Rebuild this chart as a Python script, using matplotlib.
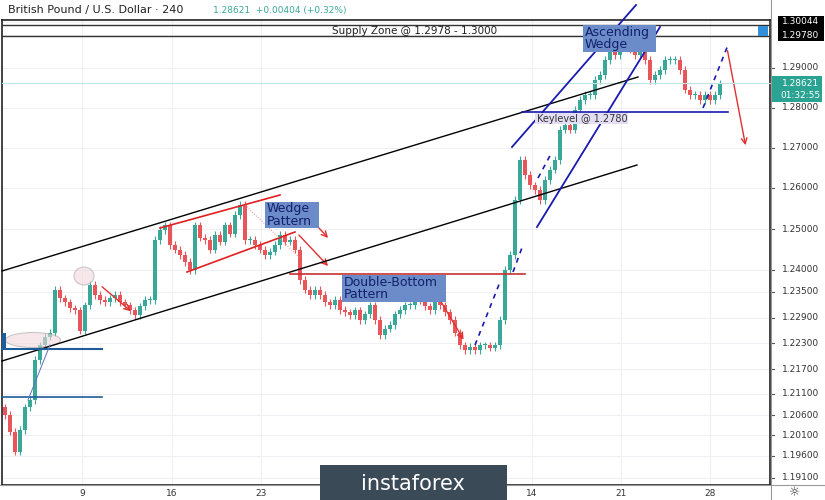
import matplotlib
matplotlib.use("Agg")
import matplotlib.pyplot as plt
from matplotlib.patches import Rectangle, Ellipse, FancyArrowPatch
from matplotlib.lines import Line2D

closes = [1.2041,1.2000,1.1950,1.2004,1.2060,1.2078,1.2177,1.2214,1.2235,1.2245,1.2351,1.2330,1.2320,1.2305,1.2300,1.2250,1.2313,1.2363,1.2338,1.2326,
1.2320,1.2330,1.2338,1.2320,1.2313,1.2300,1.2289,1.2310,1.2326,1.2326,1.2474,1.2499,1.2511,1.2462,1.2450,1.2437,1.2420,1.2400,1.2511,1.2480,
1.2474,1.2450,1.2487,1.2470,1.2511,1.2490,1.2536,1.2561,1.2474,1.2474,1.2462,1.2450,1.2437,1.2445,1.2462,1.2487,1.2470,1.2474,1.2450,1.2375,
1.2351,1.2338,1.2351,1.2338,1.2320,1.2313,1.2326,1.2301,1.2295,1.2289,1.2300,1.2276,1.2290,1.2313,1.2276,1.2239,1.2255,1.2264,1.2290,1.2301,
1.2313,1.2313,1.2330,1.2326,1.2310,1.2301,1.2320,1.2313,1.2295,1.2276,1.2245,1.2214,1.2202,1.2210,1.2202,1.2214,1.2214,1.2208,1.2214,1.2276,
1.2400,1.2437,1.2573,1.2672,1.2635,1.2610,1.2598,1.2573,1.2623,1.2648,1.2672,1.2747,1.2759,1.2747,1.2796,1.2821,1.2833,1.2833,1.2870,1.2883,
1.2920,1.2945,1.2932,1.2957,1.2969,1.2945,1.2932,1.2945,1.2920,1.2870,1.2883,1.2895,1.2920,1.2920,1.2920,1.2895,1.2846,1.2833,1.2833,1.2821,
1.2833,1.2821,1.2833,1.2862]
first_open = 1.2060
wick = 0.0009
ytick_vals = [1.30044,1.29780,1.29000,1.28621,1.28000,1.27000,1.26000,1.25000,1.24000,1.23500,1.22900,1.22300,1.21700,1.21100,1.20600,1.20100,1.19600,1.19100]
ytick_px = [22,35,68,83,108,148,188,229,270,292,318,343,369,394,415,435,456,478]
xtick_labels = ["9","16","23","14","21","28"]
xtick_px = [82,172,261,532,621,710]

W, H = 825, 500
fig = plt.figure(figsize=(W/100, H/100), dpi=100)
fig.patch.set_facecolor("white")
L, R, T, B = 2, 770, 20, 485
ax = fig.add_axes([L/W, 1-B/H, (R-L)/W, (B-T)/H])

def py2price(y):
    return 1.29 + (68 - y) * 0.0002475
ax.set_ylim(py2price(B), py2price(T))
ax.set_xlim(-1 + (L)/5, (R)/5 - 1)

GREEN, RED = "#3aa899", "#e8555a"
prev = first_open
for i, c in enumerate(closes):
    o = prev
    col = GREEN if c >= o else RED
    ax.vlines(i, min(o, c) - wick, max(o, c) + wick, color=col, lw=0.8, zorder=3)
    ax.add_patch(Rectangle((i - 0.4, min(o, c)), 0.8, max(abs(c - o), 0.0002), color=col, zorder=3, lw=0))
    prev = c

for y in ytick_px:
    ax.axhline(py2price(y), color="#eef0f3", lw=0.8, zorder=0)
for x in xtick_px:
    ax.axvline(x/5 - 1, color="#eef0f3", lw=0.8, zorder=0)
ax.set_xticks([]); ax.set_yticks([])
for s in ax.spines.values():
    s.set_color("#222"); s.set_linewidth(1.2)

def P(x, y):
    return (x/W, 1 - y/H)
def line(x0, y0, x1, y1, **kw):
    a, b = P(x0, y0), P(x1, y1)
    fig.add_artist(Line2D([a[0], b[0]], [a[1], b[1]], transform=fig.transFigure, **kw))
def arrow(x0, y0, x1, y1, color):
    fig.add_artist(FancyArrowPatch(P(x0, y0), P(x1, y1), transform=fig.transFigure, arrowstyle="->", mutation_scale=10, color=color, lw=1))
def box(x0, y0, x1, y1, fc, ec="none", z=5):
    fig.add_artist(Rectangle(P(x0, y1), (x1-x0)/W, (y1-y0)/H, transform=fig.transFigure, fc=fc, ec=ec, zorder=z))

line(2, 25, 770, 25, color="#333", lw=1)
line(2, 36, 770, 36, color="#333", lw=1)
fig.text(415/W, 1-31/H, "Supply Zone @ 1.2978 - 1.3000", ha="center", va="center", fontsize=7.5, color="#222")
box(758, 26, 768, 36, "#2f8fd8")
line(2, 83, 770, 83, color="#bfe6e0", lw=0.8)
line(2, 271, 638, 77, color="black", lw=1)
line(2, 361, 637, 165, color="black", lw=1)
line(160, 228, 280, 195, color="#e02020", lw=1.2)
line(187, 272, 295, 232, color="#e02020", lw=1.2)
line(245, 205, 300, 258, color="#e88", lw=0.7, ls=":")
line(290, 274, 525, 274, color="#c83030", lw=1.2)
arrow(100, 285, 133, 313, "#e03030")
arrow(296, 203, 330, 240, "#e03030")
arrow(297, 233, 330, 268, "#e03030")
arrow(437, 295, 465, 342, "#e03030")
arrow(727, 48, 746, 148, "#e03030")
line(2, 349, 102, 349, color="#1f5c99", lw=1.5)
line(2, 397, 102, 397, color="#1f5c99", lw=1.2)
box(2, 333, 6, 348, "#1f5c99")
line(28, 400, 50, 345, color="#6070c0", lw=0.7)
fig.add_artist(Ellipse(P(33, 340), 55/W, 15/H, transform=fig.transFigure, fc="#f2d8dd", ec="#aaa", alpha=0.6, lw=0.8))
fig.add_artist(Ellipse(P(84, 276), 20/W, 18/H, transform=fig.transFigure, fc="#f2d8dd", ec="#aaa", alpha=0.6, lw=0.8))
line(512, 147, 636, 5, color="#1a1ab0", lw=1.3)
line(537, 227, 660, 27, color="#1a1ab0", lw=1.3)
line(522, 112, 728, 112, color="#1a1ab0", lw=1.2)
for seg in [(513, 272, 523, 245), (538, 178, 552, 152), (475, 345, 500, 282), (703, 108, 728, 45)]:
    line(*seg, color="#1a1ab0", lw=1.2, ls=(0, (3, 3)))
box(535, 113, 628, 124, "#e3def3")
fig.text(537/W, 1-119/H, "Keylevel @ 1.2780", ha="left", va="center", fontsize=7, color="#333", zorder=7)
for (x0, y0, x1, y1, t) in [(265, 202, 319, 228, "Wedge\nPattern"), (342, 275, 446, 302, "Double-Bottom\nPattern"), (583, 25, 656, 52, "Ascending\nWedge")]:
    box(x0, y0, x1, y1, "#6b8cc8", z=6)
    fig.text((x0+2)/W, 1-(y0+y1)/2/H, t, ha="left", va="center", fontsize=9, color="#14206b", linespacing=0.95, zorder=7)

fig.text(8/W, 1-10/H, "British Pound / U.S. Dollar · 240", fontsize=8, va="center", color="#222")
fig.text(213/W, 1-10/H, "1.28621  +0.00404 (+0.32%)", fontsize=6.5, va="center", color="#3aa899")
for v, y in zip(ytick_vals, ytick_px):
    if v in (1.30044, 1.29780, 1.28621):
        continue
    fig.text(782/W, 1-y/H, f"{v:.5f}", fontsize=6.5, va="center", color="#333")
    line(770, y, 774, y, color="#555", lw=0.8)
box(778, 16, 824, 29, "black", z=6)
box(778, 29, 824, 41, "black", z=6)
fig.text(782/W, 1-22/H, "1.30044", fontsize=6.5, va="center", color="white", zorder=7)
fig.text(782/W, 1-35/H, "1.29780", fontsize=6.5, va="center", color="white", zorder=7)
box(772, 76, 822, 89, "#2aa393", z=6)
box(772, 89, 822, 102, "#2aa393", z=6)
fig.text(782/W, 1-83/H, "1.28621", fontsize=6.5, va="center", color="white", zorder=7)
fig.text(780/W, 1-96/H, "01:32:55", fontsize=6.5, va="center", color="white", zorder=7)
line(771, 0, 771, 500, color="#999", lw=0.8)
line(0, 485, 825, 485, color="#999", lw=0.8)
fig.text(795/W, 1-493/H, "☼", fontsize=9, ha="center", va="center", color="#333")
for x, t in zip(xtick_px, xtick_labels):
    fig.text(x/W, 1-493/H, t, fontsize=6.5, ha="center", va="center", color="#333")
box(320, 465, 507, 500, "#3b4a57", z=8)
fig.text(413/W, 1-484/H, "instaforex", fontsize=15, ha="center", va="center", color="white", zorder=9)

fig.savefig("out.png", dpi=100)
